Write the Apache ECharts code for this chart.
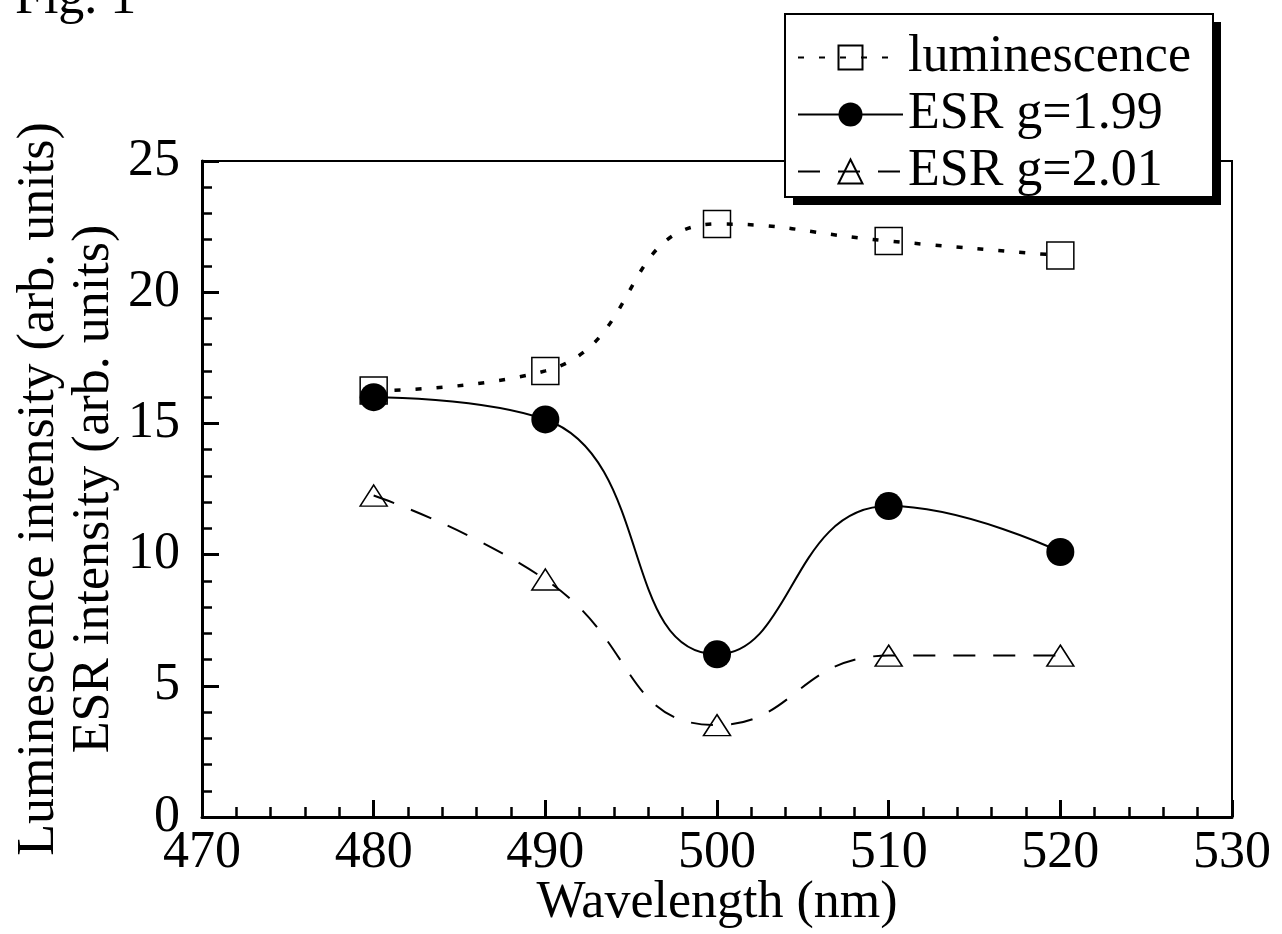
<!DOCTYPE html>
<html>
<head>
<meta charset="utf-8">
<title>Fig. 1</title>
<script src="https://cdn.jsdelivr.net/npm/echarts@6/dist/echarts.min.js"></script>
<style>
    html, body { margin: 0; padding: 0; background: #fff; }
    #chart { width: 1282px; height: 934px; }
</style>
</head>
<body>
<div id="chart"></div>
<script>
// 数据：从图上读出来的值
var wavelength = [480, 490, 500, 510, 520];
var luminescence = [16.25, 17.0, 22.6, 21.95, 21.4];
var esr199 = [16.0, 15.15, 6.2, 11.85, 10.1];
var esr201 = [12.25, 9.05, 3.5, 6.15, 6.15];

var xTicks = { min: 470, max: 530, interval: 10 };
var yTicks = { min: 0, max: 25, interval: 5 };

var FONT = 'Liberation Serif';

var pairs = function(xs, ys){
    var out = [];
    for(var i = 0; i < xs.length; i++){
        out.push([xs[i], ys[i]]);
    }
    return out;
};

var axisCommon = function(t){
    return {
        min: t.min,
        max: t.max,
        interval: t.interval,
        nameMoveOverlap: false,
        axisLine: { show: true, lineStyle: { color: '#000', width: 3 } },
        axisTick: { show: true, inside: true, length: 17, lineStyle: { color: '#000', width: 3 } },
        minorTick: { show: true, splitNumber: 5, length: 10, lineStyle: { color: '#000', width: 2.5 } },
        splitLine: { show: false },
        minorSplitLine: { show: false }
    };
};

var xAxis = axisCommon(xTicks);
xAxis.type = 'value';
xAxis.name = 'Wavelength (nm)';
xAxis.nameLocation = 'middle';
xAxis.nameGap = 60;
xAxis.nameTextStyle = { fontFamily: FONT, fontSize: 52, color: '#000' };
xAxis.axisLabel = { margin: 10, fontFamily: FONT, fontSize: 52, color: '#000' };

var yAxis = axisCommon(yTicks);
yAxis.type = 'value';
yAxis.name = 'Luminescence intensity (arb. units)\nESR intensity (arb. units)';
yAxis.nameLocation = 'middle';
yAxis.nameRotate = 90;
yAxis.nameGap = 80;
yAxis.nameTextStyle = { fontFamily: FONT, fontSize: 52, lineHeight: 55, color: '#000', align: 'center' };
yAxis.axisLabel = { margin: 22, fontFamily: FONT, fontSize: 52, color: '#000' };

// 图例的框和阴影
var legendBox = { x: 785, y: 14, w: 428, h: 183, shadow: 8 };

var chart = echarts.init(document.getElementById('chart'), null, { renderer: 'canvas' });

var option = {
    backgroundColor: '#fff',
    animation: false,
    grid: {
        left: 202, right: 50, top: 161, bottom: 117,
        outerBoundsMode: 'none',
        containLabel: false,
        show: true, borderColor: '#000', borderWidth: 2, backgroundColor: 'transparent'
    },
    xAxis: xAxis,
    yAxis: yAxis,
    legend: {
        orient: 'vertical',
        left: legendBox.x + 2,
        top: legendBox.y + 2,
        padding: [14, 18, 8, 10],
        itemGap: 2,
        itemWidth: 105,
        itemHeight: 30,
        z: 20,
        textStyle: { fontFamily: FONT, fontSize: 52, lineHeight: 55, color: '#000' },
        data: ['luminescence', 'ESR g=1.99', 'ESR g=2.01']
    },
    graphic: [
        {
            type: 'text',
            x: 15,
            y: -27,
            style: { text: 'Fig. 1', font: '52px "Liberation Serif"', fill: '#000' }
        },
        {
            type: 'rect',
            z: 15,
            shape: { x: legendBox.x + legendBox.shadow, y: legendBox.y + legendBox.shadow, width: legendBox.w, height: legendBox.h },
            style: { fill: '#000' }
        },
        {
            type: 'rect',
            z: 16,
            shape: { x: legendBox.x, y: legendBox.y, width: legendBox.w, height: legendBox.h },
            style: { fill: '#fff', stroke: '#000', lineWidth: 2 }
        }
    ],
    series: [
        {
            name: 'luminescence',
            type: 'line',
            smooth: true,
            data: pairs(wavelength, luminescence),
            symbol: 'rect',
            symbolSize: 27,
            lineStyle: { color: '#000', width: 3.5, type: [6, 15] },
            itemStyle: { color: 'rgba(255,255,255,0)', borderColor: '#000', borderWidth: 1.5 }
        },
        {
            name: 'ESR g=1.99',
            type: 'line',
            smooth: true,
            data: pairs(wavelength, esr199),
            symbol: 'circle',
            symbolSize: 28,
            lineStyle: { color: '#000', width: 2 },
            itemStyle: { color: '#000', borderColor: '#000', borderWidth: 0 }
        },
        {
            name: 'ESR g=2.01',
            type: 'line',
            smooth: true,
            data: pairs(wavelength, esr201),
            symbol: 'triangle',
            symbolSize: [27, 21],
            lineStyle: { color: '#000', width: 2, type: [22, 18] },
            itemStyle: { color: 'rgba(255,255,255,0)', borderColor: '#000', borderWidth: 1.5 }
        }
    ]
};

chart.setOption(option);
</script>
</body>
</html>
